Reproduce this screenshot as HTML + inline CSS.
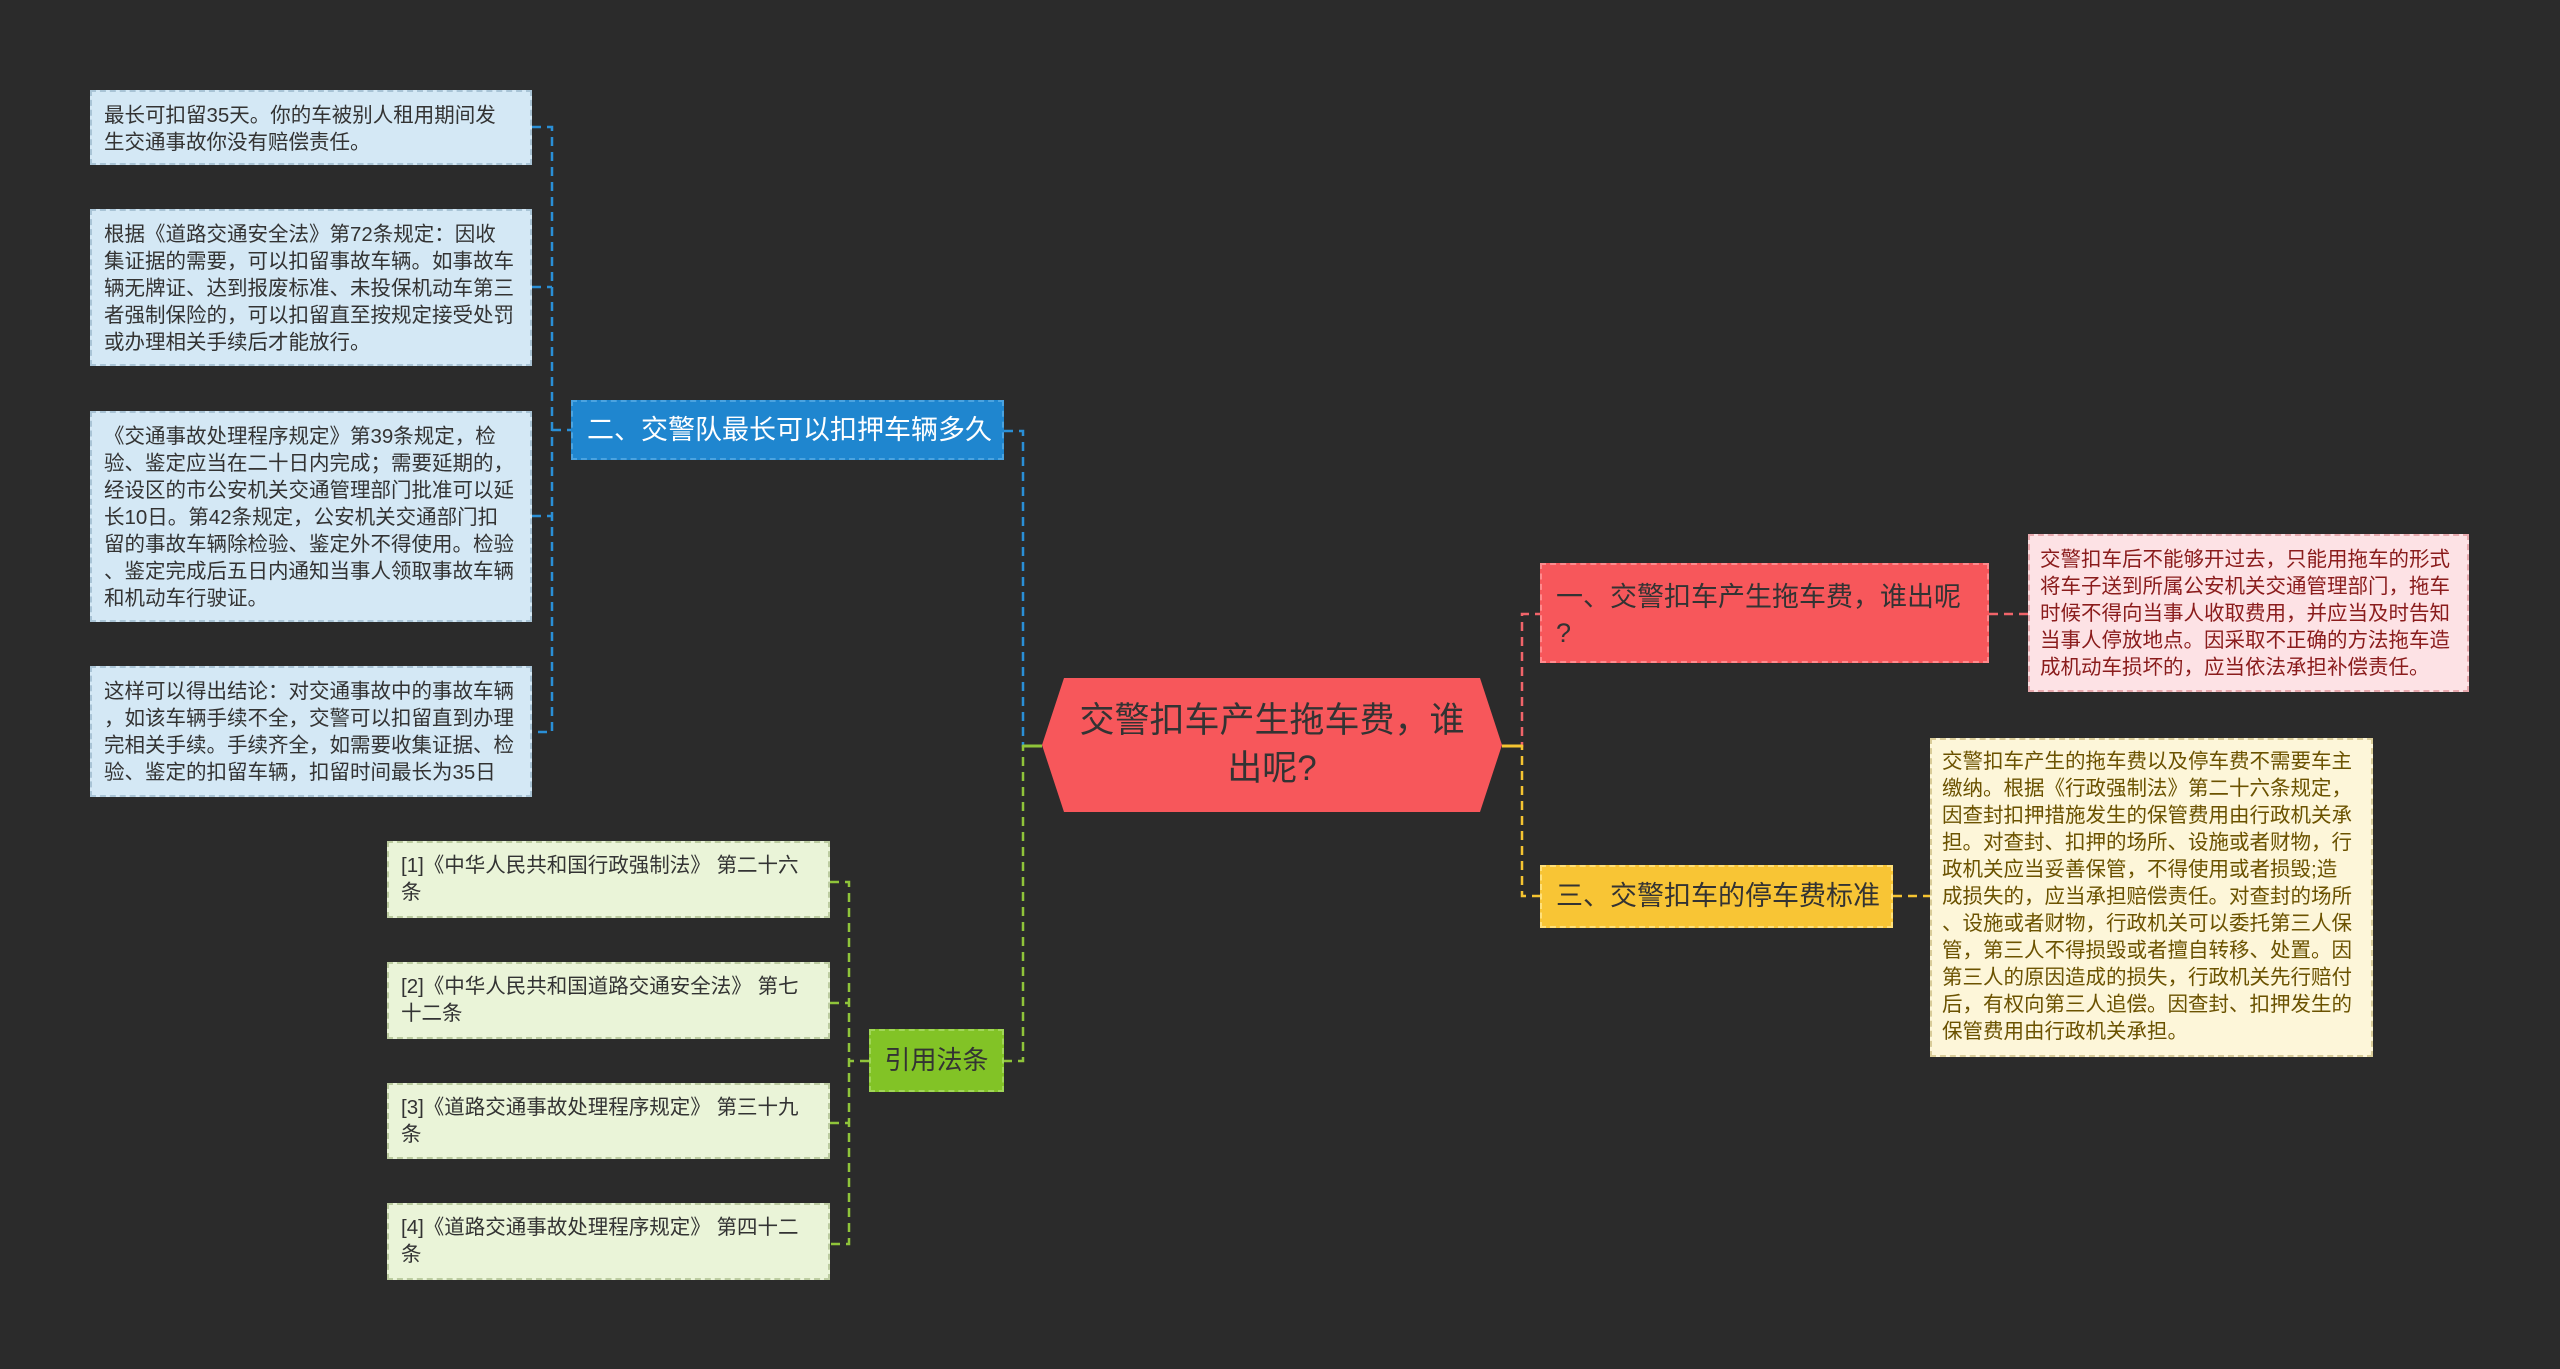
<!DOCTYPE html>
<html><head><meta charset="utf-8"><style>
html,body{margin:0;padding:0;background:#2b2b2b;}
body{width:2560px;height:1369px;position:relative;overflow:hidden;font-family:"Liberation Sans","Noto Sans CJK SC",sans-serif;}
.b{position:absolute;box-sizing:border-box;white-space:nowrap;}
.lb{background:#d4e8f5;color:#333;font-size:20.5px;line-height:27px;padding:10px 12px;border:2px dashed #a9c4d6;}
.rf{background:#eaf4d8;color:#333;font-size:20.5px;line-height:27px;padding:9px 12px;border:2px dashed #bccca0;}
svg{position:absolute;left:0;top:0;}
</style></head><body>
<svg width="2560" height="1369">
<g fill="none" stroke-width="2.5" stroke-dasharray="9,6">
<path d="M532 127H552V732H532 M532 287H552 M532 516H552 M552 430H571" stroke="#2a8fd6"/>
<path d="M1004 431H1023V746H1042" stroke="#2a8fd6"/>
<path d="M1042 746H1023V1061H1004" stroke="#8fc43a"/>
<path d="M869 1061H849 M830 882H849V1244H830 M830 1003H849 M830 1123H849" stroke="#8fc43a"/>
<path d="M1502 746H1522V614H1540" stroke="#f0646a"/>
<path d="M1989 614H2028" stroke="#f0646a"/>
<path d="M1502 746H1522V896H1540" stroke="#f5c431"/>
<path d="M1893 896H1930" stroke="#f5c431"/>
</g>
<path d="M1023 746H1042" stroke="#8fc43a" stroke-width="3"/>
<path d="M1502 746H1522" stroke="#f5c431" stroke-width="3"/>
</svg>

<div class="b lb" style="left:90px;top:90px;width:442px;height:75px;">最长可扣留35天。你的车被别人租用期间发<br>生交通事故你没有赔偿责任。</div>
<div class="b lb" style="left:90px;top:209px;width:442px;height:157px;">根据《道路交通安全法》第72条规定：因收<br>集证据的需要，可以扣留事故车辆。如事故车<br>辆无牌证、达到报废标准、未投保机动车第三<br>者强制保险的，可以扣留直至按规定接受处罚<br>或办理相关手续后才能放行。</div>
<div class="b lb" style="left:90px;top:411px;width:442px;height:211px;">《交通事故处理程序规定》第39条规定，检<br>验、鉴定应当在二十日内完成；需要延期的，<br>经设区的市公安机关交通管理部门批准可以延<br>长10日。第42条规定，公安机关交通部门扣<br>留的事故车辆除检验、鉴定外不得使用。检验<br>、鉴定完成后五日内通知当事人领取事故车辆<br>和机动车行驶证。</div>
<div class="b lb" style="left:90px;top:666px;width:442px;height:131px;">这样可以得出结论：对交通事故中的事故车辆<br>，如该车辆手续不全，交警可以扣留直到办理<br>完相关手续。手续齐全，如需要收集证据、检<br>验、鉴定的扣留车辆，扣留时间最长为35日</div>

<div class="b" style="left:571px;top:400px;width:433px;height:60px;background:#1f86cf;color:#fff;font-size:27px;line-height:56px;padding-left:14px;border:2px dashed #4aa3e0;">二、交警队最长可以扣押车辆多久</div>

<div class="b" style="left:1042px;top:678px;width:460px;height:134px;background:#f7575b;clip-path:polygon(22px 0,438px 0,460px 50%,438px 100%,22px 100%,0 50%);color:#333;font-size:35px;line-height:48px;text-align:center;padding-top:19px;">交警扣车产生拖车费，谁<br>出呢?</div>

<div class="b" style="left:869px;top:1029px;width:135px;height:63px;background:#82c326;color:#333;font-size:26px;line-height:59px;text-align:center;border:2px dashed #a0d657;">引用法条</div>

<div class="b rf" style="left:387px;top:841px;width:443px;height:77px;">[1]《中华人民共和国行政强制法》 第二十六<br>条</div>
<div class="b rf" style="left:387px;top:962px;width:443px;height:77px;">[2]《中华人民共和国道路交通安全法》 第七<br>十二条</div>
<div class="b rf" style="left:387px;top:1083px;width:443px;height:76px;">[3]《道路交通事故处理程序规定》 第三十九<br>条</div>
<div class="b rf" style="left:387px;top:1203px;width:443px;height:77px;">[4]《道路交通事故处理程序规定》 第四十二<br>条</div>

<div class="b" style="left:1540px;top:563px;width:449px;height:100px;background:#f7575b;color:#333;font-size:27px;line-height:36px;padding:14px 0 0 14px;border:2px dashed #ff8a8d;">一、交警扣车产生拖车费，谁出呢<br>?</div>
<div class="b" style="left:2028px;top:534px;width:441px;height:158px;background:#fde2e5;color:#8a1c1c;font-size:20.5px;line-height:27px;padding:10px 10px;border:2px dashed #e8a9ae;">交警扣车后不能够开过去，只能用拖车的形式<br>将车子送到所属公安机关交通管理部门，拖车<br>时候不得向当事人收取费用，并应当及时告知<br>当事人停放地点。因采取不正确的方法拖车造<br>成机动车损坏的，应当依法承担补偿责任。</div>

<div class="b" style="left:1540px;top:865px;width:353px;height:63px;background:#f8c535;color:#333;font-size:27px;line-height:59px;padding-left:14px;border:2px dashed #ffe07a;">三、交警扣车的停车费标准</div>
<div class="b" style="left:1930px;top:738px;width:443px;height:319px;background:#fdf6d9;color:#6b5200;font-size:20.5px;line-height:27px;padding:8px 10px;border:2px dashed #d9cc98;">交警扣车产生的拖车费以及停车费不需要车主<br>缴纳。根据《行政强制法》第二十六条规定，<br>因查封扣押措施发生的保管费用由行政机关承<br>担。对查封、扣押的场所、设施或者财物，行<br>政机关应当妥善保管，不得使用或者损毁;造<br>成损失的，应当承担赔偿责任。对查封的场所<br>、设施或者财物，行政机关可以委托第三人保<br>管，第三人不得损毁或者擅自转移、处置。因<br>第三人的原因造成的损失，行政机关先行赔付<br>后，有权向第三人追偿。因查封、扣押发生的<br>保管费用由行政机关承担。</div>
</body></html>
